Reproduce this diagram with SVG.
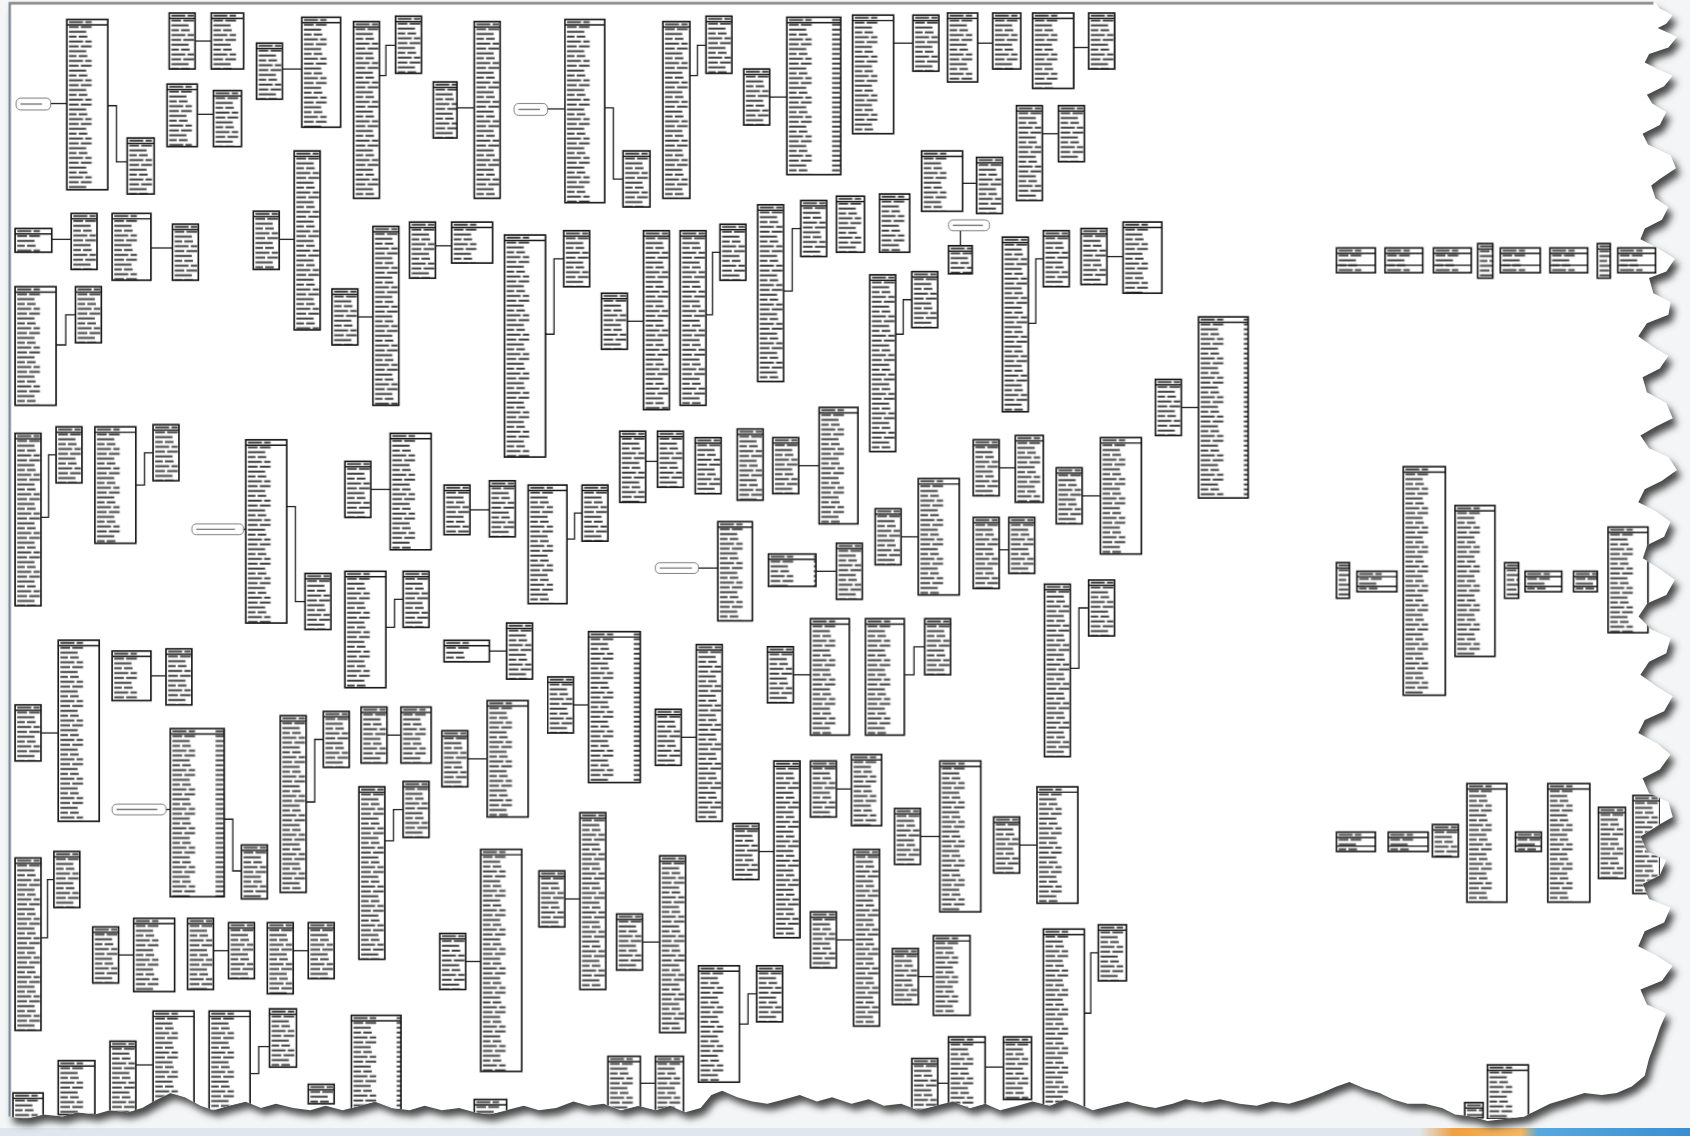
<svg xmlns="http://www.w3.org/2000/svg" xmlns:xlink="http://www.w3.org/1999/xlink" width="1690" height="1136" viewBox="0 0 1690 1136">
<defs>
<style>
.n rect{fill:url(#rows);stroke:#141414;stroke-width:1.5}
.n path{fill:none;stroke:#141414;stroke-width:1.3}
.lb rect{fill:#fff;stroke:#6a6a6a;stroke-width:.8}
.lb path{fill:none;stroke:#7a7a7a;stroke-width:1.3}
.c path{fill:none;stroke:#1e1e1e;stroke-width:1.2}
</style>
<pattern id="rows" patternUnits="userSpaceOnUse" width="40" height="18">
<rect width="40" height="18" fill="#fff"/>
<path d="M2 2.5h13m2 0h6M2 7h9m2 0h10M2 11.5h16M2 16h7m2 0h8" stroke="#3a3a3a" stroke-width="1.7"/>
</pattern>
<filter id="blur" x="-5%" y="-5%" width="110%" height="110%"><feGaussianBlur stdDeviation="3.5"/></filter>
<filter id="soft" x="0" y="0" width="100%" height="100%"><feGaussianBlur stdDeviation="0.45"/></filter>
<path id="page" d="M8 3H1536L1540 8L1552 14L1546 22L1538 26L1556 34L1548 44L1530 50L1526 58L1538 64L1552 70L1544 80L1528 88L1533 96L1546 104L1540 116L1524 124L1529 134L1550 144L1555 156L1540 166L1532 172L1536 184L1548 192L1542 204L1526 212L1522 222L1538 230L1554 240L1546 252L1530 258L1534 272L1550 280L1548 292L1528 300L1520 312L1534 322L1548 330L1540 342L1524 350L1528 364L1546 374L1552 388L1536 396L1522 404L1530 416L1548 424L1556 436L1542 446L1526 454L1520 466L1536 474L1550 484L1544 498L1528 506L1524 518L1540 528L1554 538L1546 552L1528 560L1520 572L1532 584L1550 592L1546 606L1530 614L1522 626L1536 636L1552 646L1544 660L1526 668L1520 680L1538 690L1550 700L1540 714L1524 722L1530 736L1548 744L1552 758L1538 766L1522 776L1528 790L1546 798L1540 812L1524 820L1530 834L1550 842L1544 856L1526 864L1520 878L1536 886L1552 896L1542 910L1522 918L1528 932L1546 940L1540 954L1536 966L1530 982L1526 998L1514 1008L1500 1014L1486 1016L1470 1014L1452 1020L1438 1024L1426 1030L1414 1036L1398 1038L1380 1040L1366 1036L1350 1034L1338 1028L1322 1024L1306 1024L1292 1020L1280 1014L1266 1010L1252 1004L1240 1008L1226 1014L1210 1020L1196 1024L1180 1022L1166 1026L1150 1024L1132 1020L1116 1023L1100 1020L1088 1024L1072 1028L1060 1026L1046 1022L1030 1026L1014 1030L1000 1024L988 1020L974 1026L958 1022L944 1026L928 1030L914 1024L900 1028L884 1022L868 1026L852 1030L836 1024L820 1026L806 1020L790 1024L772 1018L758 1022L742 1016L728 1020L712 1024L698 1022L684 1018L670 1012L660 1016L650 1028L636 1032L622 1026L608 1030L592 1026L576 1030L560 1024L546 1026L532 1022L516 1028L500 1030L486 1026L470 1030L454 1034L440 1032L426 1028L410 1030L394 1026L380 1030L364 1028L348 1022L334 1026L318 1030L302 1026L288 1030L272 1028L256 1024L242 1028L228 1022L212 1026L198 1030L186 1026L172 1018L158 1014L146 1020L132 1028L118 1032L102 1030L88 1034L72 1032L58 1036L40 1034L24 1038L8 1036Z"/>
<clipPath id="pageclip"><use xlink:href="#page"/></clipPath>
<linearGradient id="bar" x1="0" x2="1" y1="0" y2="0">
<stop offset="0" stop-color="#dfe6ee"/><stop offset=".84" stop-color="#dfe6ee"/><stop offset=".86" stop-color="#f0a040"/><stop offset=".9" stop-color="#f5b860"/><stop offset=".91" stop-color="#58a8e0"/><stop offset="1" stop-color="#3a8fd0"/>
</linearGradient>
</defs>
<rect width="1690" height="1136" fill="#f3f5f7"/>
<rect x="0" y="1128" width="1690" height="8" fill="url(#bar)"/>
<g transform="scale(1.07781)">
<use xlink:href="#page" transform="translate(4 6)" fill="#4a4a4a" filter="url(#blur)"/>
<use xlink:href="#page" fill="#fff"/>
<g clip-path="url(#pageclip)">
<g filter="url(#soft)">
<g id="connectors" class="c">
<path d="M47 96H62"/><path d="M100 98H108V150H118"/><path d="M181 38H196"/><path d="M183 106H198"/><path d="M262 64H280"/><path d="M352 70H358V42H367"/><path d="M424 100H440"/><path d="M508 101H524"/><path d="M561 100H569V166H578"/><path d="M640 70H647V42H655"/><path d="M714 90H730"/><path d="M829 40H847"/><path d="M907 40H921"/><path d="M996 44H1010"/>
<path d="M48 222H66"/><path d="M140 230H160"/><path d="M52 320H61V292H70"/><path d="M259 222H273"/><path d="M332 294H346"/><path d="M404 228H419"/><path d="M506 310H514V240H523"/><path d="M582 298H597"/><path d="M655 292H661V234H668"/><path d="M727 270H735V212H743"/><path d="M893 170H906"/><path d="M967 124H982"/><path d="M891 214V228"/><path d="M831 310H838V278H846"/><path d="M954 300H961V240H968"/><path d="M1027 238H1042"/><path d="M1096 378H1112"/>
<path d="M38 480H45V422H52"/><path d="M126 450H134V420H142"/><path d="M226 491H228"/><path d="M266 470H274V558H283"/><path d="M344 454H362"/><path d="M436 473H454"/><path d="M526 500H533V476H540"/><path d="M599 428H610"/><path d="M741 432H760"/><path d="M927 434H942"/><path d="M1004 460H1021"/><path d="M836 498H852"/><path d="M927 510H936"/><path d="M648 527H666"/><path d="M757 530H776"/>
<path d="M358 582H366V556H374"/><path d="M454 604H470"/><path d="M532 654H546"/><path d="M632 684H646"/><path d="M736 626H752"/><path d="M839 626H848V600H858"/><path d="M993 620H1001V564H1010"/><path d="M38 680H54"/><path d="M140 627H154"/><path d="M154 751H158"/><path d="M208 760H216V808H224"/><path d="M284 744H292V686H300"/><path d="M359 682H372"/><path d="M434 704H452"/><path d="M357 780H365V751H374"/>
<path d="M704 790H718"/><path d="M776 732H790"/><path d="M854 776H872"/><path d="M946 784H962"/><path d="M38 870H44V816H50"/><path d="M110 886H124"/><path d="M198 882H212"/><path d="M272 882H286"/><path d="M432 892H446"/><path d="M524 834H538"/><path d="M596 874H612"/><path d="M776 872H792"/><path d="M852 906H866"/><path d="M1006 940H1012V884H1019"/><path d="M686 950H694V922H702"/>
<path d="M126 988H142"/><path d="M232 996H240V971H250"/><path d="M594 1005H608"/><path d="M870 1005H880"/><path d="M914 990H931"/>
</g>
<g id="k1" class="lb" transform="translate(15 91)"><rect width="32" height="11" rx="4"/><path d="M4 5.5h20"/></g>
<g id="k2" class="lb" transform="translate(477 96)"><rect width="31" height="11" rx="4"/><path d="M4 5.5h20"/></g>
<g id="k3" class="lb" transform="translate(880 204)"><rect width="38" height="10" rx="4"/><path d="M4 5h28"/></g>
<g id="k4" class="lb" transform="translate(178 486)"><rect width="48" height="10" rx="4"/><path d="M4 5h36"/></g>
<g id="k5" class="lb" transform="translate(608 522)"><rect width="40" height="10" rx="4"/><path d="M4 5h30"/></g>
<g id="k6" class="lb" transform="translate(104 746)"><rect width="50" height="10" rx="4"/><path d="M4 5h38"/></g>
<g id="tA" class="n" transform="translate(62 18)"><rect width="38" height="158"/><path d="M0 5h38"/></g>
<g id="tB" class="n" transform="translate(118 128)"><rect width="25" height="52"/><path d="M0 5h25"/></g>
<g id="tC" class="n" transform="translate(157 12)"><rect width="24" height="52"/><path d="M0 5h24"/></g>
<g id="tD" class="n" transform="translate(196 12)"><rect width="30" height="52"/><path d="M0 5h30"/></g>
<g id="tE" class="n" transform="translate(155 78)"><rect width="28" height="58"/><path d="M0 5h28"/></g>
<g id="tF" class="n" transform="translate(198 84)"><rect width="26" height="52"/><path d="M0 5h26"/></g>
<g id="tG" class="n" transform="translate(238 40)"><rect width="24" height="52"/><path d="M0 5h24"/></g>
<g id="tH" class="n" transform="translate(280 16)"><rect width="36" height="102"/><path d="M0 5h36"/></g>
<g id="tI" class="n" transform="translate(328 20)"><rect width="24" height="164"/><path d="M0 5h24"/></g>
<g id="tJ" class="n" transform="translate(367 15)"><rect width="24" height="53"/><path d="M0 5h24"/></g>
<g id="tK" class="n" transform="translate(402 76)"><rect width="22" height="52"/><path d="M0 5h22"/></g>
<g id="tL" class="n" transform="translate(440 20)"><rect width="24" height="164"/><path d="M0 5h24"/></g>
<g id="tM" class="n" transform="translate(524 18)"><rect width="37" height="170"/><path d="M0 5h37"/></g>
<g id="tN" class="n" transform="translate(578 140)"><rect width="25" height="52"/><path d="M0 5h25"/></g>
<g id="tO" class="n" transform="translate(615 20)"><rect width="25" height="164"/><path d="M0 5h25"/></g>
<g id="tP" class="n" transform="translate(655 15)"><rect width="24" height="53"/><path d="M0 5h24"/></g>
<g id="tQ" class="n" transform="translate(690 64)"><rect width="24" height="52"/><path d="M0 5h24"/></g>
<g id="tR" class="n" transform="translate(730 16)"><rect width="50" height="146"/><path d="M0 5h50"/></g>
<g id="tS" class="n" transform="translate(791 14)"><rect width="38" height="110"/><path d="M0 5h38"/></g>
<g id="tT" class="n" transform="translate(847 14)"><rect width="24" height="52"/><path d="M0 5h24"/></g>
<g id="tU" class="n" transform="translate(879 12)"><rect width="28" height="64"/><path d="M0 5h28"/></g>
<g id="tV" class="n" transform="translate(921 12)"><rect width="26" height="52"/><path d="M0 5h26"/></g>
<g id="tW" class="n" transform="translate(958 12)"><rect width="38" height="70"/><path d="M0 5h38"/></g>
<g id="tX" class="n" transform="translate(1010 12)"><rect width="24" height="52"/><path d="M0 5h24"/></g>
<g id="tY" class="n" transform="translate(14 212)"><rect width="34" height="22"/><path d="M0 5h34"/></g>
<g id="tZ" class="n" transform="translate(66 198)"><rect width="24" height="52"/><path d="M0 5h24"/></g>
<g id="tAA" class="n" transform="translate(104 198)"><rect width="36" height="62"/><path d="M0 5h36"/></g>
<g id="tAB" class="n" transform="translate(160 208)"><rect width="24" height="52"/><path d="M0 5h24"/></g>
<g id="tAC" class="n" transform="translate(14 266)"><rect width="38" height="110"/><path d="M0 5h38"/></g>
<g id="tAD" class="n" transform="translate(70 266)"><rect width="24" height="52"/><path d="M0 5h24"/></g>
<g id="tAE" class="n" transform="translate(235 196)"><rect width="24" height="54"/><path d="M0 5h24"/></g>
<g id="tAF" class="n" transform="translate(273 140)"><rect width="24" height="166"/><path d="M0 5h24"/></g>
<g id="tAG" class="n" transform="translate(308 268)"><rect width="24" height="52"/><path d="M0 5h24"/></g>
<g id="tAH" class="n" transform="translate(346 210)"><rect width="24" height="166"/><path d="M0 5h24"/></g>
<g id="tAI" class="n" transform="translate(380 206)"><rect width="24" height="52"/><path d="M0 5h24"/></g>
<g id="tAJ" class="n" transform="translate(419 206)"><rect width="38" height="38"/><path d="M0 5h38"/></g>
<g id="tAK" class="n" transform="translate(468 218)"><rect width="38" height="206"/><path d="M0 5h38"/></g>
<g id="tAL" class="n" transform="translate(523 214)"><rect width="24" height="52"/><path d="M0 5h24"/></g>
<g id="tAM" class="n" transform="translate(558 272)"><rect width="24" height="52"/><path d="M0 5h24"/></g>
<g id="tAN" class="n" transform="translate(597 214)"><rect width="24" height="166"/><path d="M0 5h24"/></g>
<g id="tAO" class="n" transform="translate(631 214)"><rect width="24" height="162"/><path d="M0 5h24"/></g>
<g id="tAP" class="n" transform="translate(668 208)"><rect width="24" height="52"/><path d="M0 5h24"/></g>
<g id="tAQ" class="n" transform="translate(703 190)"><rect width="24" height="164"/><path d="M0 5h24"/></g>
<g id="tAR" class="n" transform="translate(743 186)"><rect width="24" height="52"/><path d="M0 5h24"/></g>
<g id="tAS" class="n" transform="translate(776 182)"><rect width="26" height="52"/><path d="M0 5h26"/></g>
<g id="tAT" class="n" transform="translate(816 180)"><rect width="28" height="54"/><path d="M0 5h28"/></g>
<g id="tAU" class="n" transform="translate(855 140)"><rect width="38" height="56"/><path d="M0 5h38"/></g>
<g id="tAV" class="n" transform="translate(906 146)"><rect width="24" height="52"/><path d="M0 5h24"/></g>
<g id="tAW" class="n" transform="translate(943 98)"><rect width="24" height="88"/><path d="M0 5h24"/></g>
<g id="tAX" class="n" transform="translate(982 98)"><rect width="24" height="52"/><path d="M0 5h24"/></g>
<g id="tAY" class="n" transform="translate(880 228)"><rect width="22" height="26"/><path d="M0 5h22"/></g>
<g id="tAZ" class="n" transform="translate(807 255)"><rect width="24" height="164"/><path d="M0 5h24"/></g>
<g id="tBA" class="n" transform="translate(846 252)"><rect width="24" height="52"/><path d="M0 5h24"/></g>
<g id="tBB" class="n" transform="translate(930 220)"><rect width="24" height="162"/><path d="M0 5h24"/></g>
<g id="tBC" class="n" transform="translate(968 214)"><rect width="24" height="52"/><path d="M0 5h24"/></g>
<g id="tBD" class="n" transform="translate(1003 212)"><rect width="24" height="52"/><path d="M0 5h24"/></g>
<g id="tBE" class="n" transform="translate(1042 206)"><rect width="36" height="66"/><path d="M0 5h36"/></g>
<g id="tBF" class="n" transform="translate(1072 352)"><rect width="24" height="52"/><path d="M0 5h24"/></g>
<g id="tBG" class="n" transform="translate(1112 294)"><rect width="46" height="168"/><path d="M0 5h46"/></g>
<g id="tBH" class="n" transform="translate(14 402)"><rect width="24" height="160"/><path d="M0 5h24"/></g>
<g id="tBI" class="n" transform="translate(52 396)"><rect width="24" height="52"/><path d="M0 5h24"/></g>
<g id="tBJ" class="n" transform="translate(88 396)"><rect width="38" height="108"/><path d="M0 5h38"/></g>
<g id="tBK" class="n" transform="translate(142 394)"><rect width="24" height="52"/><path d="M0 5h24"/></g>
<g id="tBL" class="n" transform="translate(228 408)"><rect width="38" height="170"/><path d="M0 5h38"/></g>
<g id="tBM" class="n" transform="translate(283 532)"><rect width="24" height="52"/><path d="M0 5h24"/></g>
<g id="tBN" class="n" transform="translate(320 428)"><rect width="24" height="52"/><path d="M0 5h24"/></g>
<g id="tBO" class="n" transform="translate(362 402)"><rect width="38" height="108"/><path d="M0 5h38"/></g>
<g id="tBP" class="n" transform="translate(412 450)"><rect width="24" height="46"/><path d="M0 5h24"/></g>
<g id="tBQ" class="n" transform="translate(454 446)"><rect width="24" height="52"/><path d="M0 5h24"/></g>
<g id="tBR" class="n" transform="translate(490 450)"><rect width="36" height="110"/><path d="M0 5h36"/></g>
<g id="tBS" class="n" transform="translate(540 450)"><rect width="24" height="52"/><path d="M0 5h24"/></g>
<g id="tBT" class="n" transform="translate(575 400)"><rect width="24" height="66"/><path d="M0 5h24"/></g>
<g id="tBU" class="n" transform="translate(610 400)"><rect width="24" height="52"/><path d="M0 5h24"/></g>
<g id="tBV" class="n" transform="translate(645 406)"><rect width="24" height="52"/><path d="M0 5h24"/></g>
<g id="tBW" class="n" transform="translate(684 398)"><rect width="24" height="66"/><path d="M0 5h24"/></g>
<g id="tBX" class="n" transform="translate(717 406)"><rect width="24" height="52"/><path d="M0 5h24"/></g>
<g id="tBY" class="n" transform="translate(760 378)"><rect width="36" height="108"/><path d="M0 5h36"/></g>
<g id="tBZ" class="n" transform="translate(903 408)"><rect width="24" height="52"/><path d="M0 5h24"/></g>
<g id="tCA" class="n" transform="translate(942 404)"><rect width="26" height="62"/><path d="M0 5h26"/></g>
<g id="tCB" class="n" transform="translate(980 434)"><rect width="24" height="52"/><path d="M0 5h24"/></g>
<g id="tCC" class="n" transform="translate(1021 406)"><rect width="38" height="108"/><path d="M0 5h38"/></g>
<g id="tCD" class="n" transform="translate(812 472)"><rect width="24" height="52"/><path d="M0 5h24"/></g>
<g id="tCE" class="n" transform="translate(852 444)"><rect width="38" height="108"/><path d="M0 5h38"/></g>
<g id="tCF" class="n" transform="translate(903 480)"><rect width="24" height="66"/><path d="M0 5h24"/></g>
<g id="tCG" class="n" transform="translate(936 480)"><rect width="24" height="52"/><path d="M0 5h24"/></g>
<g id="tCH" class="n" transform="translate(666 484)"><rect width="32" height="92"/><path d="M0 5h32"/></g>
<g id="tCI" class="n" transform="translate(713 514)"><rect width="44" height="30"/><path d="M0 5h44"/></g>
<g id="tCJ" class="n" transform="translate(776 504)"><rect width="24" height="52"/><path d="M0 5h24"/></g>
<g id="tCK" class="n" transform="translate(320 530)"><rect width="38" height="108"/><path d="M0 5h38"/></g>
<g id="tCL" class="n" transform="translate(374 530)"><rect width="24" height="52"/><path d="M0 5h24"/></g>
<g id="tCM" class="n" transform="translate(412 594)"><rect width="42" height="20"/><path d="M0 5h42"/></g>
<g id="tCN" class="n" transform="translate(470 578)"><rect width="24" height="52"/><path d="M0 5h24"/></g>
<g id="tCO" class="n" transform="translate(508 628)"><rect width="24" height="52"/><path d="M0 5h24"/></g>
<g id="tCP" class="n" transform="translate(546 586)"><rect width="48" height="140"/><path d="M0 5h48"/></g>
<g id="tCQ" class="n" transform="translate(608 658)"><rect width="24" height="52"/><path d="M0 5h24"/></g>
<g id="tCR" class="n" transform="translate(646 598)"><rect width="24" height="164"/><path d="M0 5h24"/></g>
<g id="tCS" class="n" transform="translate(712 600)"><rect width="24" height="52"/><path d="M0 5h24"/></g>
<g id="tCT" class="n" transform="translate(752 574)"><rect width="36" height="108"/><path d="M0 5h36"/></g>
<g id="tCU" class="n" transform="translate(803 574)"><rect width="36" height="108"/><path d="M0 5h36"/></g>
<g id="tCV" class="n" transform="translate(858 574)"><rect width="24" height="52"/><path d="M0 5h24"/></g>
<g id="tCW" class="n" transform="translate(969 542)"><rect width="24" height="160"/><path d="M0 5h24"/></g>
<g id="tCX" class="n" transform="translate(1010 538)"><rect width="24" height="52"/><path d="M0 5h24"/></g>
<g id="tCY" class="n" transform="translate(14 654)"><rect width="24" height="52"/><path d="M0 5h24"/></g>
<g id="tCZ" class="n" transform="translate(54 594)"><rect width="38" height="168"/><path d="M0 5h38"/></g>
<g id="tDA" class="n" transform="translate(104 604)"><rect width="36" height="46"/><path d="M0 5h36"/></g>
<g id="tDB" class="n" transform="translate(154 602)"><rect width="24" height="52"/><path d="M0 5h24"/></g>
<g id="tDC" class="n" transform="translate(158 676)"><rect width="50" height="156"/><path d="M0 5h50"/></g>
<g id="tDD" class="n" transform="translate(224 784)"><rect width="24" height="50"/><path d="M0 5h24"/></g>
<g id="tDE" class="n" transform="translate(260 664)"><rect width="24" height="164"/><path d="M0 5h24"/></g>
<g id="tDF" class="n" transform="translate(300 660)"><rect width="24" height="52"/><path d="M0 5h24"/></g>
<g id="tDG" class="n" transform="translate(335 656)"><rect width="24" height="52"/><path d="M0 5h24"/></g>
<g id="tDH" class="n" transform="translate(372 656)"><rect width="28" height="52"/><path d="M0 5h28"/></g>
<g id="tDI" class="n" transform="translate(410 678)"><rect width="24" height="52"/><path d="M0 5h24"/></g>
<g id="tDJ" class="n" transform="translate(452 650)"><rect width="38" height="108"/><path d="M0 5h38"/></g>
<g id="tDK" class="n" transform="translate(374 725)"><rect width="24" height="52"/><path d="M0 5h24"/></g>
<g id="tDL" class="n" transform="translate(333 730)"><rect width="24" height="160"/><path d="M0 5h24"/></g>
<g id="tDM" class="n" transform="translate(680 764)"><rect width="24" height="52"/><path d="M0 5h24"/></g>
<g id="tDN" class="n" transform="translate(718 706)"><rect width="24" height="164"/><path d="M0 5h24"/></g>
<g id="tDO" class="n" transform="translate(752 706)"><rect width="24" height="52"/><path d="M0 5h24"/></g>
<g id="tDP" class="n" transform="translate(790 700)"><rect width="28" height="66"/><path d="M0 5h28"/></g>
<g id="tDQ" class="n" transform="translate(830 750)"><rect width="24" height="52"/><path d="M0 5h24"/></g>
<g id="tDR" class="n" transform="translate(872 706)"><rect width="38" height="140"/><path d="M0 5h38"/></g>
<g id="tDS" class="n" transform="translate(922 758)"><rect width="24" height="52"/><path d="M0 5h24"/></g>
<g id="tDT" class="n" transform="translate(962 730)"><rect width="38" height="108"/><path d="M0 5h38"/></g>
<g id="tDU" class="n" transform="translate(14 796)"><rect width="24" height="160"/><path d="M0 5h24"/></g>
<g id="tDV" class="n" transform="translate(50 790)"><rect width="24" height="52"/><path d="M0 5h24"/></g>
<g id="tDW" class="n" transform="translate(86 860)"><rect width="24" height="52"/><path d="M0 5h24"/></g>
<g id="tDX" class="n" transform="translate(124 852)"><rect width="38" height="68"/><path d="M0 5h38"/></g>
<g id="tDY" class="n" transform="translate(174 852)"><rect width="24" height="66"/><path d="M0 5h24"/></g>
<g id="tDZ" class="n" transform="translate(212 856)"><rect width="24" height="52"/><path d="M0 5h24"/></g>
<g id="tEA" class="n" transform="translate(248 856)"><rect width="24" height="66"/><path d="M0 5h24"/></g>
<g id="tEB" class="n" transform="translate(286 856)"><rect width="24" height="52"/><path d="M0 5h24"/></g>
<g id="tEC" class="n" transform="translate(408 866)"><rect width="24" height="52"/><path d="M0 5h24"/></g>
<g id="tED" class="n" transform="translate(446 788)"><rect width="38" height="206"/><path d="M0 5h38"/></g>
<g id="tEE" class="n" transform="translate(500 808)"><rect width="24" height="52"/><path d="M0 5h24"/></g>
<g id="tEF" class="n" transform="translate(538 754)"><rect width="24" height="164"/><path d="M0 5h24"/></g>
<g id="tEG" class="n" transform="translate(572 848)"><rect width="24" height="52"/><path d="M0 5h24"/></g>
<g id="tEH" class="n" transform="translate(612 794)"><rect width="24" height="164"/><path d="M0 5h24"/></g>
<g id="tEI" class="n" transform="translate(752 846)"><rect width="24" height="52"/><path d="M0 5h24"/></g>
<g id="tEJ" class="n" transform="translate(792 788)"><rect width="24" height="164"/><path d="M0 5h24"/></g>
<g id="tEK" class="n" transform="translate(828 880)"><rect width="24" height="52"/><path d="M0 5h24"/></g>
<g id="tEL" class="n" transform="translate(866 868)"><rect width="34" height="74"/><path d="M0 5h34"/></g>
<g id="tEM" class="n" transform="translate(968 862)"><rect width="38" height="172"/><path d="M0 5h38"/></g>
<g id="tEN" class="n" transform="translate(1019 858)"><rect width="26" height="52"/><path d="M0 5h26"/></g>
<g id="tEO" class="n" transform="translate(648 896)"><rect width="38" height="108"/><path d="M0 5h38"/></g>
<g id="tEP" class="n" transform="translate(702 896)"><rect width="24" height="52"/><path d="M0 5h24"/></g>
<g id="tEQ" class="n" transform="translate(142 938)"><rect width="38" height="96"/><path d="M0 5h38"/></g>
<g id="tER" class="n" transform="translate(194 938)"><rect width="38" height="96"/><path d="M0 5h38"/></g>
<g id="tES" class="n" transform="translate(250 936)"><rect width="25" height="54"/><path d="M0 5h25"/></g>
<g id="tET" class="n" transform="translate(326 942)"><rect width="46" height="92"/><path d="M0 5h46"/></g>
<g id="tEU" class="n" transform="translate(102 966)"><rect width="24" height="68"/><path d="M0 5h24"/></g>
<g id="tEV" class="n" transform="translate(54 984)"><rect width="34" height="50"/><path d="M0 5h34"/></g>
<g id="tEW" class="n" transform="translate(12 1014)"><rect width="28" height="24"/><path d="M0 5h28"/></g>
<g id="tEX" class="n" transform="translate(564 980)"><rect width="30" height="54"/><path d="M0 5h30"/></g>
<g id="tEY" class="n" transform="translate(608 980)"><rect width="26" height="54"/><path d="M0 5h26"/></g>
<g id="tEZ" class="n" transform="translate(846 982)"><rect width="24" height="52"/><path d="M0 5h24"/></g>
<g id="tFA" class="n" transform="translate(880 962)"><rect width="34" height="72"/><path d="M0 5h34"/></g>
<g id="tFB" class="n" transform="translate(931 962)"><rect width="26" height="58"/><path d="M0 5h26"/></g>
<g id="tFC" class="n" transform="translate(440 1020)"><rect width="30" height="14"/><path d="M0 5h30"/></g>
<g id="tFD" class="n" transform="translate(286 1006)"><rect width="24" height="18"/><path d="M0 5h24"/></g>
<g id="r1" class="n" transform="translate(1240 230)"><rect width="36" height="23"/><path d="M0 5h36M0 16h36"/></g>
<g id="r2" class="n" transform="translate(1285 230)"><rect width="35" height="23"/><path d="M0 5h35M0 16h35"/></g>
<g id="r3" class="n" transform="translate(1330 230)"><rect width="35" height="23"/><path d="M0 5h35M0 16h35"/></g>
<g id="r4" class="n" transform="translate(1371 226)"><rect width="14" height="32"/><path d="M0 5h14"/></g>
<g id="r5" class="n" transform="translate(1392 230)"><rect width="37" height="23"/><path d="M0 5h37M0 16h37"/></g>
<g id="r6" class="n" transform="translate(1438 230)"><rect width="35" height="23"/><path d="M0 5h35M0 16h35"/></g>
<g id="r7" class="n" transform="translate(1482 226)"><rect width="12" height="32"/><path d="M0 5h12"/></g>
<g id="r8" class="n" transform="translate(1501 230)"><rect width="35" height="23"/><path d="M0 5h35M0 16h35"/></g>
<g id="r9" class="n" transform="translate(1240 522)"><rect width="12" height="33"/><path d="M0 5h12"/></g>
<g id="r10" class="n" transform="translate(1259 530)"><rect width="37" height="19"/><path d="M0 5h37M0 14h37"/></g>
<g id="r11" class="n" transform="translate(1302 433)"><rect width="39" height="212"/><path d="M0 5h39"/></g>
<g id="r12" class="n" transform="translate(1350 469)"><rect width="37" height="140"/><path d="M0 5h37"/></g>
<g id="r13" class="n" transform="translate(1396 522)"><rect width="13" height="33"/><path d="M0 5h13"/></g>
<g id="r14" class="n" transform="translate(1415 530)"><rect width="34" height="19"/><path d="M0 5h34M0 14h34"/></g>
<g id="r15" class="n" transform="translate(1460 530)"><rect width="22" height="19"/><path d="M0 5h22M0 14h22"/></g>
<g id="r16" class="n" transform="translate(1492 489)"><rect width="37" height="98"/><path d="M0 5h37"/></g>
<g id="r17" class="n" transform="translate(1240 772)"><rect width="36" height="18"/><path d="M0 5h36M0 13h36"/></g>
<g id="r18" class="n" transform="translate(1288 772)"><rect width="37" height="18"/><path d="M0 5h37M0 13h37"/></g>
<g id="r19" class="n" transform="translate(1329 765)"><rect width="24" height="30"/><path d="M0 5h24"/></g>
<g id="r20" class="n" transform="translate(1361 727)"><rect width="37" height="110"/><path d="M0 5h37"/></g>
<g id="r21" class="n" transform="translate(1406 772)"><rect width="24" height="18"/><path d="M0 5h24M0 13h24"/></g>
<g id="r22" class="n" transform="translate(1436 727)"><rect width="39" height="110"/><path d="M0 5h39"/></g>
<g id="r23" class="n" transform="translate(1483 749)"><rect width="25" height="66"/><path d="M0 5h25"/></g>
<g id="r24" class="n" transform="translate(1515 738)"><rect width="25" height="91"/><path d="M0 5h25"/></g>
<g id="r25" class="n" transform="translate(1380 988)"><rect width="38" height="50"/><path d="M0 5h38"/></g>
<g id="r26" class="n" transform="translate(1359 1023)"><rect width="17" height="14"/><path d="M0 5h17"/></g>
</g>
</g>
<path d="M8 3H1534" stroke="#8e8e8e" stroke-width="2.5" fill="none"/>
<path d="M9 3V1036" stroke="#7c8794" stroke-width="2.2" fill="none"/>
</g>
</svg>
